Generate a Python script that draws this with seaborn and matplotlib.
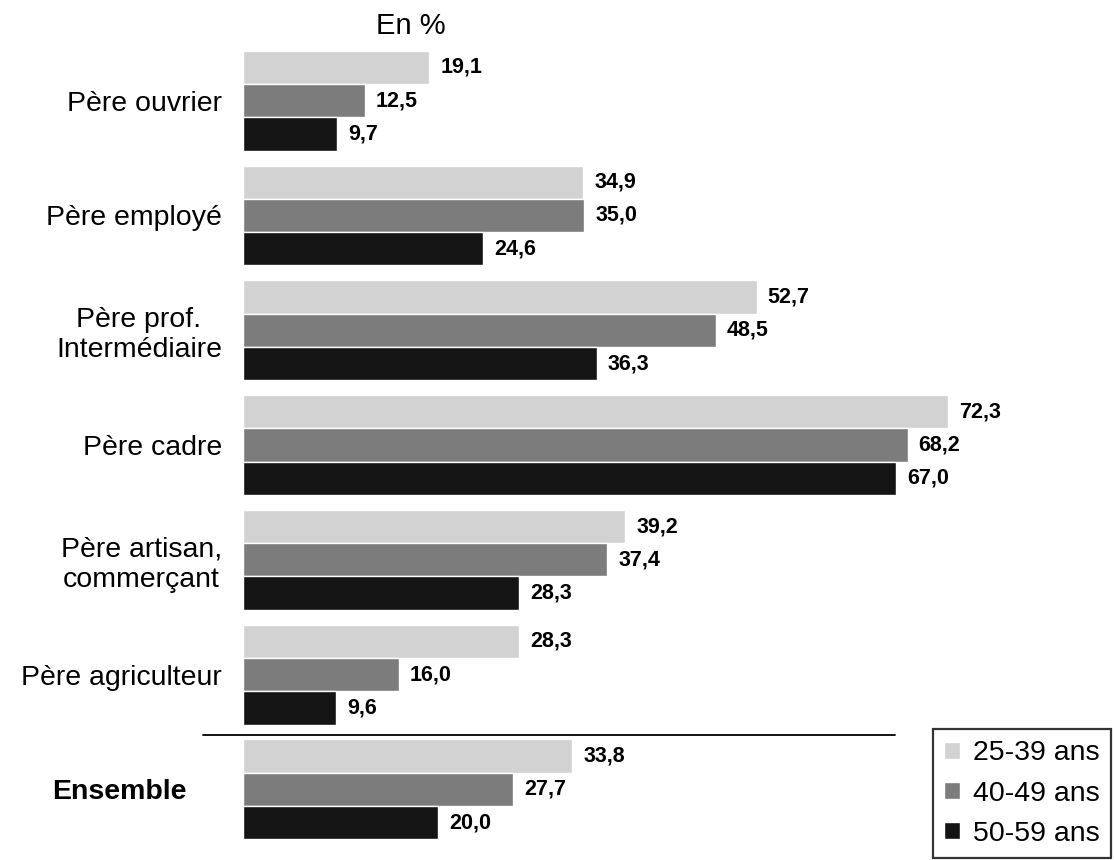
import pandas as pd
import numpy as np
import matplotlib
matplotlib.use('Agg')
import matplotlib.pyplot as plt
import seaborn as sns

# categories (top to bottom) and the three age groups
categories = ['Père ouvrier', 'Père employé', 'Père prof.\nIntermédiaire', 'Père cadre',
              'Père artisan,\ncommerçant', 'Père agriculteur', 'Ensemble']
ages = ['25-39 ans', '40-49 ans', '50-59 ans']
v_25_39 = [19.1, 34.9, 52.7, 72.3, 39.2, 28.3, 33.8]
v_40_49 = [12.5, 35.0, 48.5, 68.2, 37.4, 16.0, 27.7]
v_50_59 = [9.7, 24.6, 36.3, 67.0, 28.3, 9.6, 20.0]

colors = ['#d2d2d2', '#7c7c7c', '#141414']

df = pd.DataFrame({
    'categorie': categories * 3,
    'age': [a for a in ages for _ in categories],
    'valeur': v_25_39 + v_40_49 + v_50_59,
})

sns.set_style('white')
plt.rcParams['font.family'] = ['Liberation Sans', 'DejaVu Sans']
plt.rcParams['text.color'] = 'black'
plt.rcParams['ytick.color'] = 'black'

fig = plt.figure(figsize=(11.14, 8.6), dpi=100)
ax = fig.add_axes([0.218, 0.022, 0.70, 0.921])

sns.barplot(data=df, x='valeur', y='categorie', hue='age', order=categories,
            hue_order=ages, orient='h', palette=colors, saturation=1,
            width=0.87, ax=ax)

for cont in ax.containers:
    vals = cont.datavalues
    ax.bar_label(cont, labels=[f'{v:.1f}'.replace('.', ',') for v in vals],
                 padding=8, fontsize=15.5, fontweight='bold', color='black')

ax.set_xlim(0, 80.0)
ax.set_ylim(6.45, -0.45)
ax.set_xlabel('')
ax.set_ylabel('')
ax.set_xticks([])
sns.despine(ax=ax, left=True, bottom=True)
ax.tick_params(axis='y', length=0, pad=15, labelsize=20.5, labelcolor='black')
for lab in ax.get_yticklabels():
    lab.set_multialignment('center')
    if lab.get_text() == 'Ensemble':
        lab.set_fontweight('bold')
        lab.set_x(-0.045)

# separator between categories and Ensemble
ax.plot([-4.1, 66.9], [5.53, 5.53], color='black', lw=1.3, clip_on=False)

ax.set_title('En %', fontsize=21, x=0.215, pad=11, color='black')

handles, labels = ax.get_legend_handles_labels()
ax.get_legend().remove()
leg = fig.legend(handles, labels, loc='lower right', bbox_to_anchor=(0.997, 0.002),
                 fontsize=20.5, frameon=True, fancybox=False, edgecolor='black',
                 handlelength=0.55, handleheight=0.55, handletextpad=0.45,
                 labelspacing=0.5, borderpad=0.4, borderaxespad=0)
leg.get_frame().set_linewidth(1.6)

fig.savefig('out.png', dpi=100)
